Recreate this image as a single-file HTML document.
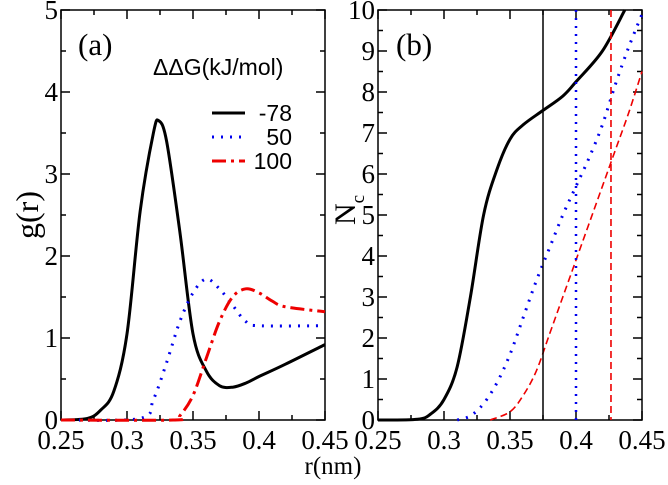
<!DOCTYPE html>
<html><head><meta charset="utf-8"><style>
body{margin:0;background:#fff}
text{font-family:"Liberation Serif","DejaVu Serif",serif}
</style></head><body>
<svg id="c" width="668" height="480"></svg>
<script>
const gR=[0.25,0.27,0.28,0.29,0.30,0.31,0.32,0.324,0.33,0.34,0.35,0.36,0.37,0.38,0.39,0.40,0.42,0.45];
const gBlack=[0,0.02,0.12,0.35,1.05,2.55,3.5,3.65,3.4,2.3,1.05,0.6,0.42,0.4,0.45,0.53,0.68,0.92];
const gR2=[0.25,0.31,0.32,0.33,0.34,0.35,0.36,0.37,0.38,0.39,0.40,0.45];
const gBlue=[0,0.02,0.25,0.7,1.2,1.55,1.72,1.6,1.4,1.2,1.15,1.15];
const gR3=[0.25,0.335,0.34,0.35,0.36,0.37,0.38,0.39,0.40,0.41,0.42,0.45];
const gRed=[0,0,0.05,0.3,0.75,1.2,1.5,1.6,1.55,1.45,1.38,1.32];
const nR1=[0.25,0.28,0.29,0.30,0.31,0.32,0.33,0.34,0.35,0.36,0.375,0.39,0.40,0.42,0.437];
const nBlack=[0,0.02,0.15,0.5,1.3,3.0,5.0,6.1,6.85,7.2,7.55,7.9,8.25,9.0,10];
const nR2=[0.31,0.32,0.33,0.34,0.35,0.36,0.37,0.38,0.39,0.40,0.41,0.42,0.43,0.44,0.45];
const nBlue=[0,0.1,0.4,0.9,1.6,2.5,3.4,4.2,5.0,5.7,6.4,7.2,8.2,9.1,9.9];
const nR3=[0.335,0.35,0.36,0.37,0.38,0.39,0.40,0.41,0.42,0.43,0.44,0.45];
const nRed=[0,0.2,0.6,1.2,2.1,3.0,3.9,4.8,5.7,6.6,7.5,8.5];
const vLines=[0.375,0.40,0.4265];
const xTicks=["0.25","0.3","0.35","0.4","0.45"];
const legendLabels=["-78","50","100"];
const svg=document.getElementById('c');const NS="http://www.w3.org/2000/svg";
function el(t,a,txt){const e=document.createElementNS(NS,t);for(const k in a)e.setAttribute(k,a[k]);if(txt!==undefined)e.textContent=txt;svg.appendChild(e);return e;}
const T=10,B=420;
function panel(L,R,ymax,name){
 const sx=v=>L+(v-0.25)/0.2*(R-L), sy=v=>B-v/ymax*(B-T);
 const f=el('rect',{x:L,y:T,width:R-L,height:B-T,fill:'none',stroke:'#000','stroke-width':1.5});
 
 for(let i=0;i<=8;i++){const v=0.25+i*0.025,x=sx(v),len=i%2?5:9;
  el('line',{x1:x,y1:B,x2:x,y2:B-len,stroke:'#000','stroke-width':1.5});
  el('line',{x1:x,y1:T,x2:x,y2:T+len,stroke:'#000','stroke-width':1.5});}
 xTicks.forEach((t,i)=>{const e=el('text',{x:sx(0.25+i*0.05),y:449,'font-size':27,'text-anchor':'middle'},t);
  });
 for(let v=0;v<=ymax+1e-9;v+=0.5){const y=sy(v),maj=Math.abs(v-Math.round(v))<1e-9,len=maj?9:5;
  el('line',{x1:L,y1:y,x2:L+len,y2:y,stroke:'#000','stroke-width':1.5});
  el('line',{x1:R,y1:y,x2:R-len,y2:y,stroke:'#000','stroke-width':1.5});
  if(maj){const e=el('text',{x:L-3,y:y+9,'font-size':27,'text-anchor':'end'},String(Math.round(v)));
   }}
 return {sx,sy};
}
function line(ax,xs,ys,col,w,dash,name){
 const P=xs.map((x,i)=>[ax.sx(x),ax.sy(ys[i])]);
 let d='M'+P[0][0].toFixed(1)+','+P[0][1].toFixed(1);
 for(let i=0;i<P.length-1;i++){const p0=P[Math.max(0,i-1)],p1=P[i],p2=P[i+1],p3=P[Math.min(P.length-1,i+2)];
  const c1=[p1[0]+(p2[0]-p0[0])/6,p1[1]+(p2[1]-p0[1])/6],c2=[p2[0]-(p3[0]-p1[0])/6,p2[1]-(p3[1]-p1[1])/6];
  d+='C'+c1.map(v=>v.toFixed(1))+' '+c2.map(v=>v.toFixed(1))+' '+p2.map(v=>v.toFixed(1));}
 const a={d,fill:'none',stroke:col,'stroke-width':w,'stroke-linejoin':'round'};
 if(dash)a['stroke-dasharray']=dash;
 const e=el('path',a);
}
const A=panel(61,325,5,'panel-a');
line(A,gR,gBlack,'#000',3,null,'g-line-minus78');
line(A,gR2,gBlue,'#0000ee',3,'2 7','g-line-50');
line(A,gR3,gRed,'#ee0000',3,'14 5 3 5','g-line-100');
const Bp=panel(378,642,10,'panel-b');
line(Bp,nR1,nBlack,'#000',3,null,'nc-line-minus78');
line(Bp,nR2,nBlue,'#0000ee',3,'2 7','nc-line-50');
line(Bp,nR3,nRed,'#ee0000',1.6,'7 4','nc-line-100');
const vc=['#000','#0000ee','#ee0000'],vd=[null,'2 6','7 4'],vw=[1.5,2.5,1.6];
vLines.forEach((v,i)=>{const a={x1:Bp.sx(v),y1:T,x2:Bp.sx(v),y2:B,stroke:vc[i],'stroke-width':vw[i]};if(vd[i])a['stroke-dasharray']=vd[i];
 const e=el('line',a);});
let e;
e=el('text',{x:78,y:55,'font-size':31},'(a)');
e=el('text',{x:396,y:55,'font-size':31},'(b)');
e=el('text',{x:153,y:75,'font-size':23,style:'font-family:"Liberation Sans",sans-serif'},'ΔΔG(kJ/mol)');
const lc=['#000','#0000ee','#ee0000'],ld=[null,'2 7','14 5 3 5'];
legendLabels.forEach((t,i)=>{const y=113+i*24;const a={x1:212,y1:y,x2:245,y2:y,stroke:lc[i],'stroke-width':3};if(ld[i])a['stroke-dasharray']=ld[i];
 let l=el('line',a);
 let tx=el('text',{x:292,y:y+8,'font-size':23,'text-anchor':'end',style:'font-family:"Liberation Sans",sans-serif'},t);});
e=el('text',{x:0,y:0,'font-size':32,'text-anchor':'middle',transform:'translate(38,215) rotate(-90)'},'g(r)');
e=el('text',{x:0,y:0,'font-size':30,'text-anchor':'middle',transform:'translate(355,210) rotate(-90)'});
e.innerHTML='N<tspan font-size="19" dy="9">c</tspan>';
e=el('text',{x:333,y:474,'font-size':25,'text-anchor':'middle'},'r(nm)');
</script>
</body></html>
